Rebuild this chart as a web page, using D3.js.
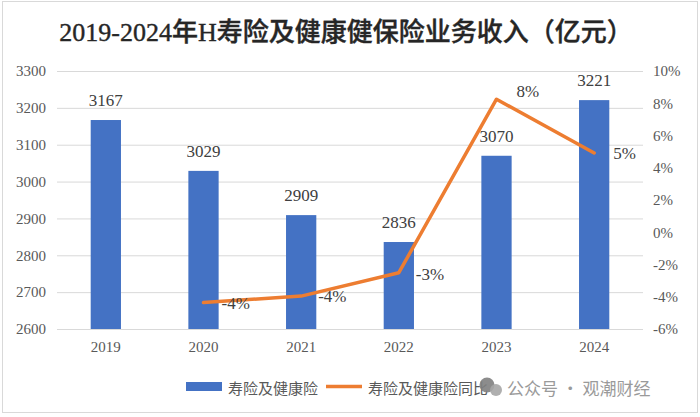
<!DOCTYPE html>
<html><head><meta charset="utf-8">
<script src="https://cdn.jsdelivr.net/npm/d3@7"></script>
<style>
html,body{margin:0;padding:0;background:#fff;}
svg{display:block;}
</style></head>
<body>
<svg id="chart" width="700" height="417"></svg>
<script>
const categories = ["2019","2020","2021","2022","2023","2024"];
const revenue = [3167, 3029, 2909, 2836, 3070, 3221];
const yoy = [null, -4.36, -3.96, -2.51, 8.25, 4.92];
const yoyLabels = [null, "-4%", "-4%", "-3%", "8%", "5%"];
const leftTicks = [2600, 2700, 2800, 2900, 3000, 3100, 3200, 3300];
const rightTicks = [-6, -4, -2, 0, 2, 4, 6, 8, 10];
const title = "2019-2024年H寿险及健康健保险业务收入（亿元）";
const seriesNames = ["寿险及健康险", "寿险及健康险同比"];
const watermark = "公众号 · 观潮财经";

const svg = d3.select("#chart");
const W = 700, H = 417;
const m = {left: 57, right: 57, top: 71, bottom: 88};
const serif = "'Liberation Serif','Times New Roman',serif";
const cjk = "'Liberation Serif','Noto Sans CJK SC',serif";

// frame
svg.append("rect").attr("x", 2.5).attr("y", 1.5).attr("width", 695).attr("height", 411)
  .attr("fill", "#fff").attr("stroke", "#d9d9d9").attr("stroke-width", 1);

const x = d3.scaleBand().domain(categories).range([m.left, W - m.right]).paddingInner(0.69).paddingOuter(0.345);
const yL = d3.scaleLinear().domain([2600, 3300]).range([H - m.bottom, m.top]);
const yR = d3.scaleLinear().domain([-6, 10]).range([H - m.bottom, m.top]);

// gridlines
svg.append("g").selectAll("line").data(leftTicks).join("line")
  .attr("x1", m.left).attr("x2", W - m.right)
  .attr("y1", d => yL(d) + 0.5).attr("y2", d => yL(d) + 0.5)
  .attr("stroke", "#d9d9d9").attr("stroke-width", 1);

// left axis
const gl = svg.append("g").attr("transform", `translate(${m.left},0)`)
  .call(d3.axisLeft(yL).tickValues(leftTicks).tickSize(0).tickPadding(11).tickFormat(d3.format("d")));
gl.select(".domain").remove();
gl.selectAll("text").attr("font-family", serif).attr("font-size", 15).attr("fill", "#595959");

// right axis
const gr = svg.append("g").attr("transform", `translate(${W - m.right},0)`)
  .call(d3.axisRight(yR).tickValues(rightTicks).tickSize(0).tickPadding(10).tickFormat(d => d + "%"));
gr.select(".domain").remove();
gr.selectAll("text").attr("font-family", serif).attr("font-size", 15).attr("fill", "#595959");

// bottom axis
const gb = svg.append("g").attr("transform", `translate(0,${H - m.bottom})`)
  .call(d3.axisBottom(x).tickSize(0).tickPadding(12));
gb.select(".domain").remove();
gb.selectAll("text").attr("font-family", serif).attr("font-size", 15).attr("fill", "#595959");

// bars
svg.append("g").selectAll("rect").data(revenue).join("rect")
  .attr("x", (d, i) => x(categories[i]))
  .attr("width", x.bandwidth())
  .attr("y", d => yL(d))
  .attr("height", d => yL(2600) - yL(d))
  .attr("fill", "#4472C4");

// bar labels
svg.append("g").selectAll("text").data(revenue).join("text")
  .attr("x", (d, i) => x(categories[i]) + x.bandwidth() / 2)
  .attr("y", d => yL(d) - 14)
  .attr("text-anchor", "middle")
  .attr("font-family", serif).attr("font-size", 17).attr("fill", "#404040")
  .text(d => d);

// line
const pts = yoy.map((v, i) => ({v, c: categories[i], l: yoyLabels[i]})).filter(d => d.v !== null);
const cx = d => x(d.c) + x.bandwidth() / 2;
svg.append("path").datum(pts)
  .attr("d", d3.line().x(cx).y(d => yR(d.v)))
  .attr("fill", "none").attr("stroke", "#ED7D31").attr("stroke-width", 3.5)
  .attr("stroke-linejoin", "round").attr("stroke-linecap", "round");

const lblOff = {"2020": [18, 6], "2021": [17, 6], "2022": [17, 7], "2023": [20, -2], "2024": [19, 6]};
svg.append("g").selectAll("text").data(pts).join("text")
  .attr("x", d => cx(d) + lblOff[d.c][0])
  .attr("y", d => yR(d.v) + lblOff[d.c][1])
  .attr("font-family", serif).attr("font-size", 17).attr("fill", "#404040")
  .text(d => d.l);

// title
svg.append("text").attr("x", 346).attr("y", 41).attr("text-anchor", "middle")
  .attr("font-family", cjk).attr("font-size", 26).attr("font-weight", 500).attr("fill", "#262626")
  .attr("stroke", "#262626").attr("stroke-width", 0.4)
  .text(title);

// legend
const lg = svg.append("g");
lg.append("rect").attr("x", 186).attr("y", 382).attr("width", 36).attr("height", 9).attr("fill", "#4472C4");
lg.append("text").attr("x", 228).attr("y", 394).attr("font-family", "'Noto Sans CJK SC',sans-serif")
  .attr("font-size", 15).attr("fill", "#595959").text(seriesNames[0]);
lg.append("line").attr("x1", 326).attr("x2", 362).attr("y1", 386.5).attr("y2", 386.5)
  .attr("stroke", "#ED7D31").attr("stroke-width", 3.5);
lg.append("text").attr("x", 368).attr("y", 394).attr("font-family", "'Noto Sans CJK SC',sans-serif")
  .attr("font-size", 15).attr("fill", "#595959").text(seriesNames[1]);

// watermark
const wm = svg.append("g");
wm.append("circle").attr("cx", 487).attr("cy", 385).attr("r", 7.5).attr("fill", "#7f7f7f").attr("opacity", 0.9);
wm.append("circle").attr("cx", 496).attr("cy", 390).attr("r", 6).attr("fill", "#a6a6a6").attr("opacity", 0.9);
wm.append("text").attr("x", 507).attr("y", 395).attr("font-family", "'Noto Sans CJK SC',sans-serif")
  .attr("font-size", 17).attr("fill", "#9a9a9a").text(watermark);
</script>
</body></html>
